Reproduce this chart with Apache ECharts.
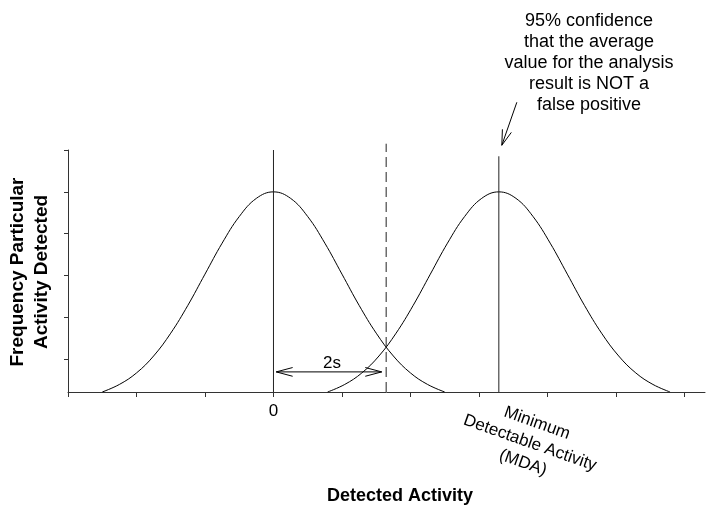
<!DOCTYPE html>
<html><head><meta charset="utf-8">
<script src="https://cdn.jsdelivr.net/npm/echarts@6/dist/echarts.min.js"></script>
<style>html,body{margin:0;padding:0;background:#fff}#c{width:709px;height:506px}</style>
</head><body><div id="c"></div>
<script>
// Blank (background) distribution, centred on 0 (units of sigma)
const noiseX = [-2.5,-2.25,-2,-1.75,-1.5,-1.25,-1,-0.75,-0.5,-0.25,0,0.25,0.5,0.75,1,1.25,1.5,1.75,2,2.25,2.5];
const noiseY = [0.044,0.080,0.135,0.216,0.325,0.458,0.607,0.755,0.882,0.969,1.000,0.969,0.882,0.755,0.607,0.458,0.325,0.216,0.135,0.080,0.044];
// Distribution centred on the MDA
const mdaX = [0.79,1.04,1.29,1.54,1.79,2.04,2.29,2.54,2.79,3.04,3.29,3.54,3.79,4.04,4.29,4.54,4.79,5.04,5.29,5.54,5.79];
const mdaY = [0.044,0.080,0.135,0.216,0.325,0.458,0.607,0.755,0.882,0.969,1.000,0.969,0.882,0.755,0.607,0.458,0.325,0.216,0.135,0.080,0.044];
const zeroValue = 0;
const decisionLevel = 1.645;
const mdaValue = 3.29;
const yBase = 0.044;
const yTop = 1.2;
const mdaLineTop = 1.17;
const dashedTop = 1.23;
const arrowY = 0.14;
const arrowFrom = 0.04, arrowTo = 1.58;
const xTicks = [-3,-2,-1,0,1,2,3,4,5,6];
const yTicks = [0.2,0.4,0.6,0.8,1.0,1.2];
const xLabelValues = [0];
const annotation = '95% confidence\nthat the average\nvalue for the analysis\nresult is NOT a\nfalse positive';
const mdaLabel = 'Minimum\nDetectable Activity\n(MDA)';
const xTitle = 'Detected Activity';
const yTitle = 'Frequency Particular\nActivity Detected';

const FONT = "'Liberation Sans', Arial, Helvetica, sans-serif";
const AX = '#333';
const chart = echarts.init(document.getElementById('c'), null, {renderer: 'canvas'});
const zip = (a, b) => a.map((v, i) => [v, b[i]]);
const curve = (name, d) => ({
  name, type: 'line', data: d, showSymbol: false, symbol: 'none', smooth: 0.4,
  lineStyle: {color: '#000', width: 1}, silent: true, animation: false
});
const vline = (name, x, top, dash) => ({
  name, type: 'line', data: [[x, yBase], [x, top]], showSymbol: false, symbol: 'none',
  clip: false, lineStyle: {color: '#222', width: 1, type: dash ? [10, 5] : 'solid'},
  silent: true, animation: false
});

chart.setOption({
  animation: false,
  backgroundColor: '#fff',
  grid: {left: 68, right: 4, top: 150, bottom: 114, containLabel: false},
  xAxis: {
    type: 'value', min: -3, max: 6.3,
    axisLine: {show: true, onZero: false, lineStyle: {color: AX, width: 1}},
    axisTick: {show: true, customValues: xTicks, length: 5, lineStyle: {color: AX}},
    axisLabel: {show: true, customValues: xLabelValues, color: '#000', fontSize: 17, fontFamily: FONT, margin: 11,
      formatter: v => String(v)},
    splitLine: {show: false}
  },
  yAxis: {
    type: 'value', min: yBase, max: yTop,
    axisLine: {show: true, onZero: false, lineStyle: {color: AX, width: 1}},
    axisTick: {show: true, customValues: yTicks, length: 4, lineStyle: {color: AX}},
    axisLabel: {show: false},
    splitLine: {show: false}
  },
  series: [
    curve('Blank', zip(noiseX, noiseY)),
    curve('MDA', zip(mdaX, mdaY)),
    vline('zero', zeroValue, yTop, false),
    vline('decision', decisionLevel, dashedTop, true),
    vline('mda', mdaValue, mdaLineTop, false)
  ]
});

function openHead(tip, dir, L, ang) {
  const n = Math.hypot(dir[0], dir[1]);
  const d = [dir[0] / n, dir[1] / n];
  const rot = (a) => [d[0] * Math.cos(a) - d[1] * Math.sin(a), d[0] * Math.sin(a) + d[1] * Math.cos(a)];
  const r1 = rot(ang), r2 = rot(-ang);
  return [[tip[0] - L * r1[0], tip[1] - L * r1[1]], tip, [tip[0] - L * r2[0], tip[1] - L * r2[1]]];
}
const line = (pts) => ({type: 'polyline', shape: {points: pts}, style: {stroke: '#000', lineWidth: 1, fill: null}, silent: true});

const pL = chart.convertToPixel({gridIndex: 0}, [arrowFrom, arrowY]);
const pR = chart.convertToPixel({gridIndex: 0}, [arrowTo, arrowY]);
const pM = chart.convertToPixel({gridIndex: 0}, [mdaValue, mdaLineTop]);
const tip = [pM[0] + 3, pM[1] - 11];
const tail = [tip[0] + 15, tip[1] - 43];

chart.setOption({
  graphic: [
    line([pL, pR]),
    line(openHead(pL, [-1, 0], 17, 0.26)),
    line(openHead(pR, [1, 0], 17, 0.26)),
    {type: 'text', x: (pL[0] + pR[0]) / 2 + 3, y: pL[1] - 9, silent: true,
      style: {text: '2s', fill: '#000', font: '17px ' + FONT, align: 'center', verticalAlign: 'middle'}},
    line([tail, tip]),
    line(openHead(tip, [tip[0] - tail[0], tip[1] - tail[1]], 16, 0.3)),
    {type: 'text', x: 589, y: 63, silent: true,
      style: {text: annotation, fill: '#000', font: '18px ' + FONT, align: 'center', verticalAlign: 'middle', lineHeight: 21}},
    {type: 'text', x: 530, y: 443, rotation: -19.5 * Math.PI / 180, silent: true,
      style: {text: mdaLabel, fill: '#000', font: '17px ' + FONT, align: 'center', verticalAlign: 'middle', lineHeight: 21}},
    {type: 'text', x: 400, y: 496, silent: true,
      style: {text: xTitle, fill: '#000', font: 'bold 18px ' + FONT, align: 'center', verticalAlign: 'middle'}},
    {type: 'text', x: 30, y: 272, rotation: Math.PI / 2, silent: true,
      style: {text: yTitle, fill: '#000', font: 'bold 19px ' + FONT, align: 'center', verticalAlign: 'middle', lineHeight: 24}}
  ]
});
</script></body></html>
